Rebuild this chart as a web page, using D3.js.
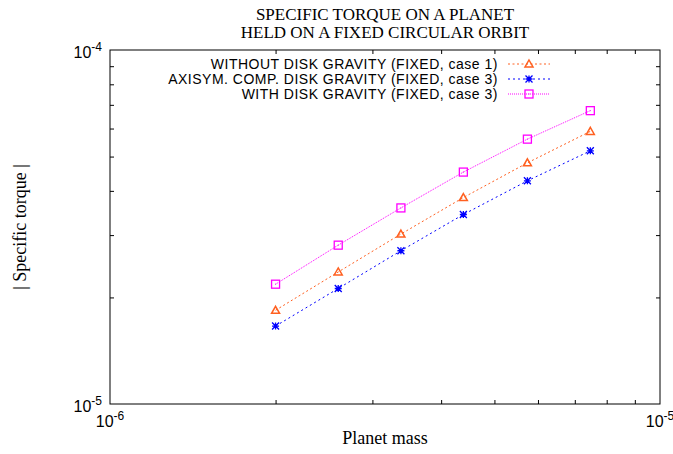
<!DOCTYPE html>
<html>
<head>
<meta charset="utf-8">
<script src="https://cdn.jsdelivr.net/npm/d3@7"></script>
<style>
html,body{margin:0;padding:0;background:#fff;}
svg{display:block;}
</style>
</head>
<body>
<svg id="chart" width="673" height="454"></svg>
<script>
// ---- data ----
const planetMass = [2.0e-6, 2.6e-6, 3.38e-6, 4.39e-6, 5.74e-6, 7.47e-6];
const withoutDisk = [1.84e-5, 2.36e-5, 3.02e-5, 3.83e-5, 4.80e-5, 5.89e-5];
const axisymDisk = [1.66e-5, 2.12e-5, 2.71e-5, 3.43e-5, 4.27e-5, 5.19e-5];
const withDisk = [2.18e-5, 2.81e-5, 3.58e-5, 4.52e-5, 5.60e-5, 6.74e-5];
const seriesNames = [
  "WITHOUT DISK GRAVITY (FIXED, case 1)",
  "AXISYM. COMP. DISK GRAVITY (FIXED, case 3)",
  "WITH DISK GRAVITY (FIXED, case 3)"
];
const xMajor = [1e-6, 1e-5];
const xMajorExp = ["-6", "-5"];
const yMajor = [1e-5, 1e-4];
const yMajorExp = ["-5", "-4"];
const xMinor = [2e-6,3e-6,4e-6,5e-6,6e-6,7e-6,8e-6,9e-6];
const yMinor = [2e-5,3e-5,4e-5,5e-5,6e-5,7e-5,8e-5,9e-5];
const titleLines = ["SPECIFIC TORQUE ON A PLANET", "HELD ON A FIXED CIRCULAR ORBIT"];

// ---- layout ----
const L = 110, R = 660, T = 50, B = 404;
const svg = d3.select("#chart");
const x = d3.scaleLog().domain([1e-6, 1e-5]).range([L, R]);
const y = d3.scaleLog().domain([1e-5, 1e-4]).range([B, T]);
const SANS = "'Liberation Sans', Arial, sans-serif";
const SERIF = "'Liberation Serif', 'Times New Roman', serif";

// minor ticks via axes (inward)
function tickAxis(axis, tr) {
  const g = svg.append("g").attr("transform", tr).call(axis);
  g.select(".domain").remove();
  g.selectAll("text").remove();
  g.selectAll("line").attr("stroke", "#000").attr("stroke-width", 1);
}
tickAxis(d3.axisBottom(x).tickValues(xMinor).tickSize(-4), `translate(0,${B})`);
tickAxis(d3.axisTop(x).tickValues(xMinor).tickSize(-4), `translate(0,${T})`);
tickAxis(d3.axisLeft(y).tickValues(yMinor).tickSize(-4), `translate(${L},0)`);
tickAxis(d3.axisRight(y).tickValues(yMinor).tickSize(-4), `translate(${R},0)`);

// frame
svg.append("rect").attr("x", L).attr("y", T).attr("width", R - L).attr("height", B - T)
  .attr("fill", "none").attr("stroke", "#000").attr("stroke-width", 1);

// tick labels with superscript
function supLabel(px, py, exp, anchor) {
  const t = svg.append("text").attr("x", px).attr("y", py)
    .attr("font-family", SANS).attr("font-size", 16).attr("fill", "#000")
    .attr("text-anchor", anchor);
  t.append("tspan").text("10");
  t.append("tspan").attr("dy", -7).attr("font-size", 12).text(exp);
}
xMajor.forEach((v, i) => supLabel(x(v), 427, xMajorExp[i], "middle"));
yMajor.forEach((v, i) => supLabel(102, y(v) + 8, yMajorExp[i], "end"));

// titles
titleLines.forEach((s, i) => {
  svg.append("text").attr("x", (L + R) / 2).attr("y", 20 + i * 18)
    .attr("text-anchor", "middle").attr("font-family", SERIF).attr("font-size", 17)
    .attr("fill", "#000").text(s);
});
svg.append("text").attr("x", (L + R) / 2).attr("y", 444)
  .attr("text-anchor", "middle").attr("font-family", SERIF).attr("font-size", 18)
  .text("Planet mass");
svg.append("text").attr("transform", `translate(26,${(T + B) / 2}) rotate(-90)`)
  .attr("text-anchor", "middle").attr("font-family", SERIF).attr("font-size", 18)
  .text("| Specific torque |");

// series
const colors = ["#ff6020", "#0000ff", "#ff00ff"];
const dashes = ["2,2.5", "2,3", "1,1"];
const values = [withoutDisk, axisymDisk, withDisk];

function marker(g, kind, cx, cy, col) {
  if (kind === 0) {
    const s = 4;
    g.append("path").attr("d", `M${cx},${cy - s}L${cx + s},${cy + s * 0.75}L${cx - s},${cy + s * 0.75}Z`)
      .attr("fill", "none").attr("stroke", col).attr("stroke-width", 1.5);
  } else if (kind === 1) {
    const s = 3.5;
    g.append("path").attr("d",
      `M${cx - s},${cy}L${cx + s},${cy}M${cx},${cy - s}L${cx},${cy + s}` +
      `M${cx - s},${cy - s}L${cx + s},${cy + s}M${cx - s},${cy + s}L${cx + s},${cy - s}`)
      .attr("stroke", col).attr("stroke-width", 1.3);
  } else {
    const s = 4;
    g.append("rect").attr("x", cx - s).attr("y", cy - s).attr("width", 2 * s).attr("height", 2 * s)
      .attr("fill", "none").attr("stroke", col).attr("stroke-width", 1.3);
    g.append("rect").attr("x", cx - 0.5).attr("y", cy - 0.5).attr("width", 1).attr("height", 1)
      .attr("fill", col);
  }
}

const line = d3.line().x(d => x(d[0])).y(d => y(d[1]));
values.forEach((vals, k) => {
  const g = svg.append("g");
  const pts = planetMass.map((m, i) => [m, vals[i]]);
  g.append("path").attr("d", line(pts)).attr("fill", "none")
    .attr("stroke", colors[k]).attr("stroke-width", 1).attr("stroke-dasharray", dashes[k]);
  pts.forEach(p => marker(g, k, x(p[0]), y(p[1]), colors[k]));
});

// legend
const legY = [69, 84, 99];
seriesNames.forEach((name, k) => {
  const g = svg.append("g");
  g.append("text").attr("x", 498).attr("y", legY[k]).attr("text-anchor", "end")
    .attr("font-family", SANS).attr("font-size", 14).attr("letter-spacing", 0.5)
    .attr("fill", "#000").text(name);
  const my = legY[k] - 5;
  g.append("line").attr("x1", 508).attr("x2", 550).attr("y1", my).attr("y2", my)
    .attr("stroke", colors[k]).attr("stroke-width", 1).attr("stroke-dasharray", dashes[k]);
  marker(g, k, 529, my, colors[k]);
});
</script>
</body>
</html>
